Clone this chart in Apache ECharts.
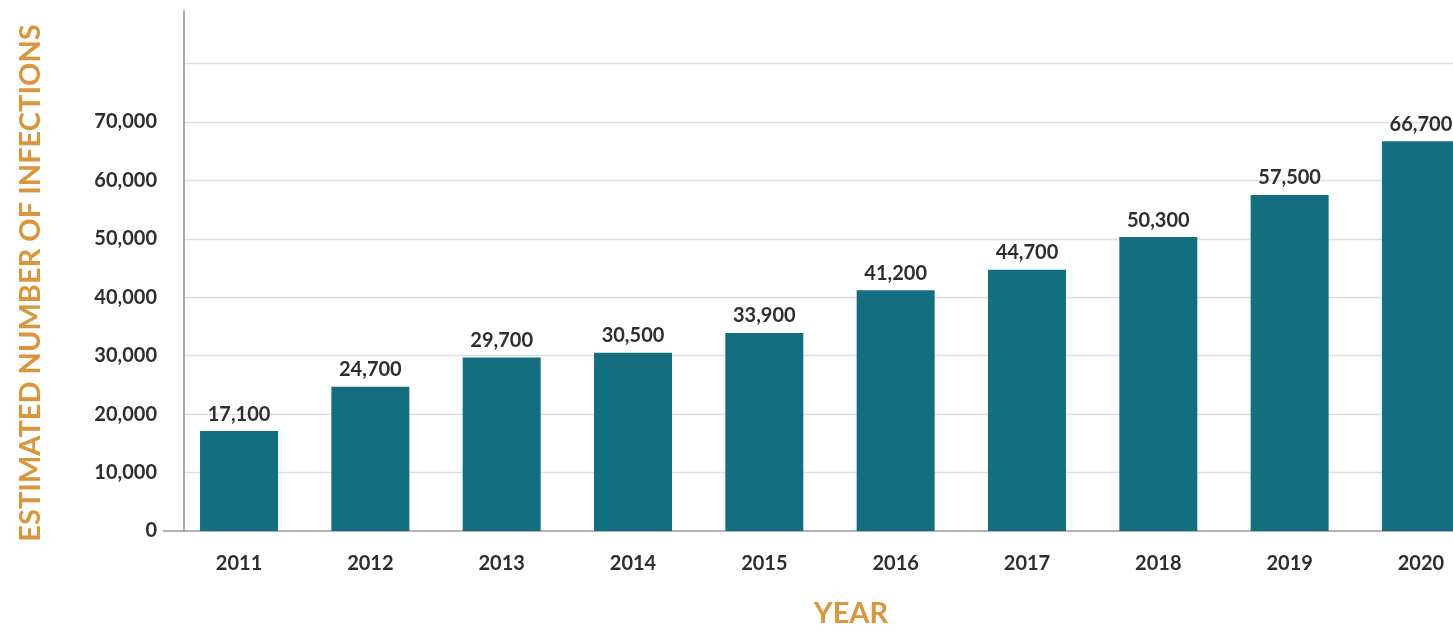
<!DOCTYPE html>
<html>
<head>
<meta charset="utf-8">
<script src="https://cdn.jsdelivr.net/npm/echarts@6/dist/echarts.min.js"></script>
<style>
  html, body { margin: 0; padding: 0; background: #ffffff; }
  #chart { width: 1453px; height: 631px; }
</style>
</head>
<body>
<div id="chart"></div>
<script>
// Estimated number of infections per year
const years = [2011, 2012, 2013, 2014, 2015, 2016, 2017, 2018, 2019, 2020];
const infections = [17100, 24700, 29700, 30500, 33900, 41200, 44700, 50300, 57500, 66700];
const yTickLabels = [0, 10000, 20000, 30000, 40000, 50000, 60000, 70000];
const gridValues = [10000, 20000, 30000, 40000, 50000, 60000, 70000, 80000];

const yTitle = 'ESTIMATED NUMBER OF INFECTIONS';
const xTitle = 'YEAR';

const FONT = 'Lato';
const DARK = '#2e2e2e';
const ORANGE = '#d9963c';
const TEAL = '#136f7f';

const chart = echarts.init(document.getElementById('chart'));

const barData = years.map((y, i) => [y, infections[i]]);
const fmt = v => Number(v).toLocaleString('en-US');

chart.setOption({
  animation: false,
  backgroundColor: '#ffffff',
  grid: { left: 184, right: 0, top: 11, bottom: 100, containLabel: false },
  xAxis: {
    type: 'value',
    min: 2010.581,
    max: 2020.244,
    axisLine: { show: true, onZero: true, lineStyle: { color: '#9a9a9a', width: 1.5 } },
    axisTick: { show: false },
    splitLine: { show: false },
    axisLabel: {
      customValues: years,
      formatter: v => String(v),
      margin: 23,
      color: DARK,
      fontFamily: FONT,
      fontWeight: 'bold',
      fontSize: 20
    }
  },
  yAxis: {
    type: 'value',
    min: 0,
    max: 89000,
    interval: 10000,
    axisLine: { show: true, lineStyle: { color: '#8c8c8c', width: 1.5 } },
    axisTick: {
      show: true,
      customValues: [0],
      length: 21,
      lineStyle: { color: '#9a9a9a', width: 1.5 }
    },
    splitLine: { show: false },
    axisLabel: {
      margin: 27,
      color: DARK,
      fontFamily: FONT,
      fontWeight: 'bold',
      fontSize: 20,
      formatter: v => (yTickLabels.indexOf(v) >= 0 ? fmt(v) : '')
    }
  },
  series: [{
    type: 'bar',
    data: barData,
    barWidth: 78,
    itemStyle: { color: TEAL },
    label: {
      show: true,
      position: 'top',
      distance: 7,
      color: DARK,
      fontFamily: FONT,
      fontWeight: 'bold',
      fontSize: 20,
      formatter: p => fmt(p.value[1])
    },
    // horizontal gridlines, drawn behind the bars
    markLine: {
      silent: true,
      symbol: 'none',
      label: { show: false },
      z: 0,
      lineStyle: { color: '#dedede', width: 1.3, type: 'solid' },
      data: gridValues.map(v => ({ yAxis: v }))
    }
  }],
  graphic: [
    {
      type: 'text',
      x: 31,
      y: 283,
      rotation: Math.PI / 2,
      style: {
        text: yTitle,
        fill: ORANGE,
        font: 'bold 29px ' + FONT,
        align: 'center',
        verticalAlign: 'middle'
      }
    },
    {
      type: 'text',
      x: 851,
      y: 614,
      style: {
        text: xTitle,
        fill: ORANGE,
        font: 'bold 29px ' + FONT,
        align: 'center',
        verticalAlign: 'middle'
      }
    }
  ]
});
</script>
</body>
</html>
